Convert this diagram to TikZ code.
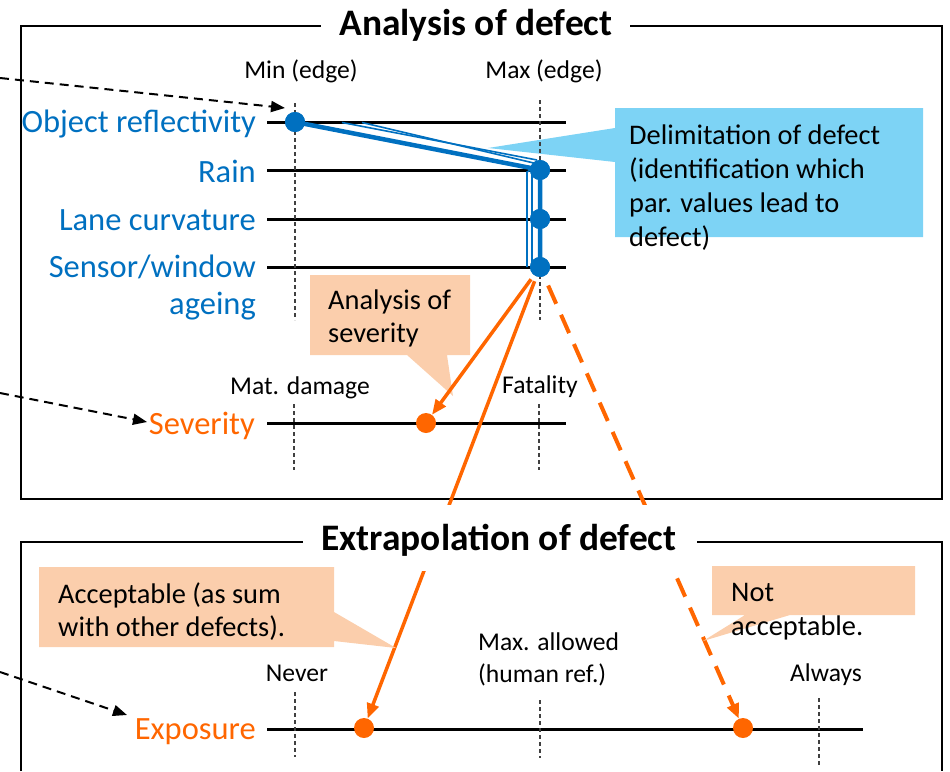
\documentclass[tikz,border=0pt]{standalone}
\usepackage{fontspec}
\setmainfont{Carlito}
\usetikzlibrary{arrows.meta}
\definecolor{tblue}{RGB}{0,112,192}
\definecolor{torange}{RGB}{255,102,0}
\definecolor{peach}{RGB}{251,206,172}
\definecolor{skyb}{RGB}{125,211,245}
\begin{document}
\begin{tikzpicture}[x=1pt,y=-1pt,
  frame/.style={line width=2.2pt},
  axis/.style={line width=3pt},
  grid/.style={dash pattern=on 4pt off 3pt, line width=1.1pt, black!75},
  bdot/.style={circle, fill=tblue, minimum size=20pt, inner sep=0pt},
  odot/.style={circle, fill=torange, minimum size=20pt, inner sep=0pt},
  plabel/.style={text=tblue, font=\fontsize{32.5}{37}\selectfont, align=right, anchor=base east, inner sep=0pt},
  olabel/.style={text=torange, font=\fontsize{32.5}{37}\selectfont, anchor=base east, inner sep=0pt},
  small/.style={font=\fontsize{25.6}{32}\selectfont, inner sep=0pt},
  ctext/.style={font=\fontsize{28.4}{33}\selectfont, inner sep=0pt, anchor=base west, align=left},
  ttl/.style={font=\fontsize{37.4}{40}\selectfont\bfseries, inner sep=0pt, anchor=base},
  oarrow/.style={torange, line width=3.5pt, -{Triangle[length=15pt,width=12pt]}},
  darrow/.style={line width=2pt, dash pattern=on 9pt off 6pt, -{Triangle[length=14pt,width=11pt]}},
  bline/.style={tblue, line width=4.5pt},
  bthin/.style={tblue, line width=1.6pt},
]
\useasboundingbox (0,0) rectangle (950,771);
% frames
\draw[frame] (21,26) rectangle (942,499);
\fill[white] (321,8) rectangle (630,44);
\draw[frame] (21,771) -- (21,542) -- (942,542) -- (942,771);
% blue callout
\fill[skyb] (615,108) -- (923,108) -- (923,237) -- (615,237) -- (615,162) -- (488,148) -- (615,128) -- cycle;
% severity callout
\fill[peach] (310,275) -- (470,275) -- (470,355) -- (447,355) -- (453,396) -- (407,355) -- (310,355) -- cycle;
% axes
\foreach \y in {122,170,219,267} \draw[axis] (267,\y) -- (566,\y);
\draw[axis] (267,423) -- (566,423);
\draw[axis] (267,729) -- (863,729);
% grid lines
\draw[grid] (295,103) -- (295,320);
\draw[grid] (540,100) -- (540,320);
\draw[grid] (294,404) -- (294,470);
\draw[grid] (539,404) -- (539,470);
\draw[grid] (295,692) -- (295,757);
\draw[grid] (540,700) -- (540,758);
\draw[grid] (819,698) -- (819,765);
% dots
\node[bdot] (d1) at (295,122) {};
\node[bdot] (d2) at (540,170) {};
\node[bdot] (d3) at (540,219) {};
\node[bdot] (d4) at (540,267) {};
\node[odot] (o1) at (426,423) {};
\node[odot] (o2) at (364,728) {};
\node[odot] (o3) at (743,728) {};
% blue bundle
\draw[bline] (d1.center) -- (536,169) -- (d2.center) -- (d3.center) -- (d4.center);
\draw[bthin] (342,122.5) -- (537,160);
\draw[bthin] (362,122.5) -- (538,164);
\draw[bthin] (527,267) -- (527,172) -- (534,168);
\draw[bthin] (532,267) -- (532,173);
\node[bdot] at (d1) {};
\node[bdot] at (d2) {};
\node[bdot] at (d3) {};
\node[bdot] at (d4) {};
% orange arrows
\draw[oarrow, shorten <=5pt] (d4) -- (o1);
\draw[oarrow, shorten <=5pt] (d4) -- (o2);
\draw[oarrow, dash pattern=on 20pt off 12pt, line width=4pt, shorten <=10pt] (d4) -- (o3);
% title box bottom
\fill[white] (303,505) rectangle (697,571);
% lower callouts
\fill[peach] (39,567) -- (334,567) -- (334,612) -- (396,648) -- (334,641) -- (334,647) -- (39,647) -- cycle;
\fill[peach] (712,566) -- (915,566) -- (915,615) -- (790,615) -- (703,641) -- (745,615) -- (712,615) -- cycle;
% labels
\node[plabel] (objr) at (256,132) {Object reflectivity};
\node[plabel] (rain) at (256,182) {Rain};
\node[plabel] (lane) at (256,230) {Lane curvature};
\node[plabel] (sens) at (256,314) {Sensor/window\\ageing};
\node[olabel] (sev) at (255,434) {Severity};
\node[olabel] (exp) at (256,739) {Exposure};
\node[small, anchor=base] (minl) at (301,78) {Min (edge)};
\node[small, anchor=base] (maxl) at (544,78) {Max (edge)};
\node[small, anchor=base] (matl) at (300,394) {Mat. damage};
\node[small, anchor=base] (fatl) at (540,393) {Fatality};
\node[small, anchor=base] (nevl) at (297,681) {Never};
\node[small, anchor=base west, align=left] (mxal) at (478,682) {Max. allowed\\(human ref.)};
\node[small, anchor=base] (alwl) at (826,681) {Always};
\node[ctext, font=\fontsize{28.4}{34}\selectfont] (delt) at (629,246) {Delimitation of defect\\(identification which\\par. values lead to\\defect)};
\node[ctext] (sevt) at (328,342) {Analysis of\\severity};
\node[ctext] (acct) at (58,636) {Acceptable (as sum\\with other defects).};
\node[ctext, font=\fontsize{28.4}{34}\selectfont] (nact) at (731,635) {Not\\acceptable.};
\node[ttl] (t1) at (476,35) {Analysis of defect};
\node[ttl] (t2) at (499,550) {Extrapolation of defect};
% dashed pointer arrows
\coordinate (s1) at (0,78);
\coordinate (e1) at (285,108);
\coordinate (s2) at (0,393);
\coordinate (e2) at (147,422);
\coordinate (s3) at (0,672);
\coordinate (e3) at (127,715);
\draw[darrow] (s1) -- (e1);
\draw[darrow] (s2) -- (e2);
\draw[darrow] (s3) -- (e3);
\end{tikzpicture}
\end{document}
